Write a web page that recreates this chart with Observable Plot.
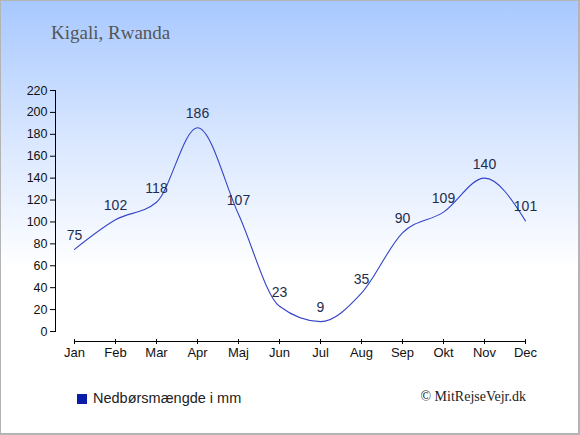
<!DOCTYPE html>
<html>
<head>
<meta charset="utf-8">
<script src="https://cdn.jsdelivr.net/npm/d3@7"></script>
<script src="https://cdn.jsdelivr.net/npm/@observablehq/plot@0.6"></script>
<style>
  html, body { margin: 0; padding: 0; background: #fff; }
  #chart {
    position: relative; width: 580px; height: 435px; overflow: hidden;
    background: linear-gradient(to bottom, #a7c8ff 0%, #d6e5ff 30%, #ffffff 62%, #ffffff 100%);
    box-shadow: inset 1px 1px 0 #b4b4b4, inset -2px -2px 0 #b4b4b4;
  }
  #chart svg { position: absolute; left: 0; top: 0; }
  .title { position: absolute; left: 51px; top: 23px; font: 19px/1 "Liberation Serif", serif; color: #555; white-space: nowrap; }
  .legend { position: absolute; left: 93px; top: 391px; font: 14.5px/1 "Liberation Sans", Arial, sans-serif; color: #222; white-space: nowrap; }
  .swatch { position: absolute; left: 77px; top: 394px; width: 10px; height: 10px; background: #0b1ca8; }
  .credit { position: absolute; right: 54px; top: 390px; font: 14px/1 "Liberation Serif", serif; color: #222; white-space: nowrap; }
</style>
</head>
<body>
<div id="chart">
  <div class="title">Kigali, Rwanda</div>
  <div class="swatch"></div>
  <div class="legend">Nedbørsmængde i mm</div>
  <div class="credit">© MitRejseVejr.dk</div>
</div>
<script>
const months = ["Jan", "Feb", "Mar", "Apr", "Maj", "Jun", "Jul", "Aug", "Sep", "Okt", "Nov", "Dec"];
const precipitation = [75, 102, 118, 186, 107, 23, 9, 35, 90, 109, 140, 101];
const yTicks = [0, 20, 40, 60, 80, 100, 120, 140, 160, 180, 200, 220];

const data = months.map((m, i) => ({month: m, value: precipitation[i]}));

const svg = Plot.plot({
  width: 580,
  height: 435,
  marginTop: 90,
  marginBottom: 104,
  marginLeft: 55,
  marginRight: 36,
  style: {background: "transparent", fontFamily: "'Liberation Sans', Arial, sans-serif", color: "#111", overflow: "visible"},
  x: {type: "point", domain: months, range: [74, 525], padding: 0},
  y: {domain: [0, 220], range: [331, 90]},
  marks: [
    Plot.frame({anchor: "left", stroke: "#000"}),
    Plot.axisY({ticks: yTicks, tickSize: 5, tickPadding: 3, label: null, fontSize: 12.5, stroke: "#000", fill: "#111"}),
    Plot.ruleY([0], {x1: () => months[0], x2: () => months[months.length - 1], dy: 10, stroke: "#000"}),
    Plot.axisX({tickSize: 5, tickPadding: 3, dy: 8, label: null, fontSize: 13, stroke: "#000", fill: "#111"}),
    Plot.lineY(data, {x: "month", y: "value", curve: "monotone-x", stroke: "#3444c8", strokeWidth: 1.1}),
    Plot.text(data, {x: "month", y: "value", text: d => String(d.value), dy: -14, fontSize: 14, fill: "#1e2d50"})
  ]
});
document.getElementById("chart").appendChild(svg);
</script>
</body>
</html>
